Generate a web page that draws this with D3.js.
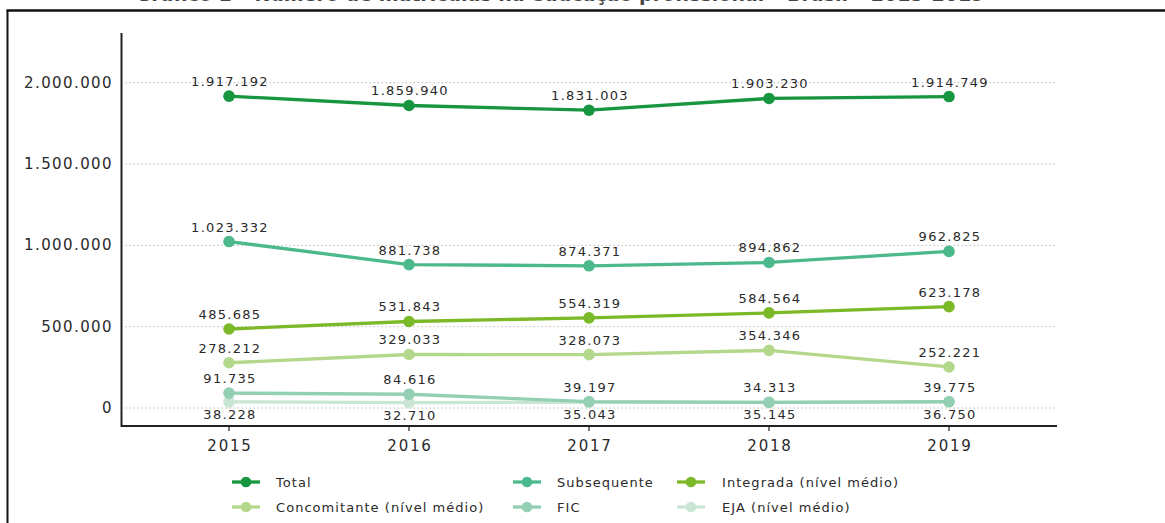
<!DOCTYPE html>
<html><head><meta charset="utf-8">
<script src="https://cdn.jsdelivr.net/npm/d3@7"></script>
<style>
html,body{margin:0;padding:0;background:#fff;}
svg{display:block;font-family:"DejaVu Sans",Verdana,sans-serif;}
</style></head>
<body>
<svg id="chart" width="1165" height="523"></svg>
<script>
const years = ["2015","2016","2017","2018","2019"];
const yTicks = [0, 500000, 1000000, 1500000, 2000000];
const seriesNames = ["Total","Subsequente","Integrada (nível médio)","Concomitante (nível médio)","FIC","EJA (nível médio)"];
const total        = [1917192, 1859940, 1831003, 1903230, 1914749];
const subsequente  = [1023332, 881738, 874371, 894862, 962825];
const integrada    = [485685, 531843, 554319, 584564, 623178];
const concomitante = [278212, 329033, 328073, 354346, 252221];
const fic          = [91735, 84616, 39197, 34313, 39775];
const eja          = [38228, 32710, 35043, 35145, 36750];
const colors = ["#17963f","#4cb98d","#7cb928","#b3d88b","#93cfb3","#c8e6d3"];
const labelBelow = [false,false,false,false,false,true];

const svg = d3.select("#chart");
const fmt = v => d3.format(",")(v).replace(/,/g,".");

// title (mostly cut off at the top in the reference) and frame
svg.append("text").attr("x",560).attr("y",1.2).attr("text-anchor","middle")
  .attr("font-size",19).attr("font-weight","bold").attr("fill","#444")
  .text("Gráfico 1 – Número de matrículas na educação profissional – Brasil – 2015-2019");
svg.append("line").attr("x1",6.5).attr("x2",1165).attr("y1",10.5).attr("y2",10.5).attr("stroke","#111").attr("stroke-width",2.5);
svg.append("line").attr("x1",7.5).attr("x2",7.5).attr("y1",10).attr("y2",523).attr("stroke","#111").attr("stroke-width",2);

const x = d3.scalePoint().domain(years).range([229, 949]);
const y = d3.scaleLinear().domain([0, 2000000]).range([408, 82.7]);
const plotLeft = 121.5, plotRight = 1057, axisTop = 33, axisBottom = 426;

// grid
svg.append("g").selectAll("line").data(yTicks).join("line")
  .attr("x1",plotLeft+4).attr("x2",plotRight).attr("y1",d=>y(d)).attr("y2",d=>y(d))
  .attr("stroke","#bbb").attr("stroke-width",1).attr("stroke-dasharray","1.5,2.5");

// y tick labels
svg.append("g").selectAll("text").data(yTicks).join("text")
  .attr("x",113).attr("y",d=>y(d)+5).attr("text-anchor","end")
  .attr("font-size",15).attr("letter-spacing",1.4).attr("fill","#2a2a2a")
  .text(d=>fmt(d));

// axes lines
svg.append("line").attr("x1",plotLeft).attr("x2",plotLeft).attr("y1",axisTop).attr("y2",axisBottom+1).attr("stroke","#222").attr("stroke-width",2);
svg.append("line").attr("x1",plotLeft).attr("x2",plotRight).attr("y1",axisBottom).attr("y2",axisBottom).attr("stroke","#222").attr("stroke-width",2);
svg.append("g").selectAll("line").data(years).join("line")
  .attr("x1",d=>x(d)).attr("x2",d=>x(d)).attr("y1",axisBottom).attr("y2",axisBottom+5).attr("stroke","#222").attr("stroke-width",1.2);
svg.append("g").selectAll("text").data(years).join("text")
  .attr("x",d=>x(d)+1).attr("y",451).attr("text-anchor","middle")
  .attr("font-size",15).attr("letter-spacing",1.8).attr("fill","#2a2a2a").text(d=>d);

const data = [total, subsequente, integrada, concomitante, fic, eja];
const line = d3.line().x((d,i)=>x(years[i])).y(d=>y(d));

// draw series bottom-up so Total is on top
const order = [5,4,3,2,1,0];
order.forEach(si=>{
  const vals = data[si];
  const g = svg.append("g");
  g.append("path").datum(vals).attr("d",line).attr("fill","none")
    .attr("stroke",colors[si]).attr("stroke-width",3.3);
  g.selectAll("circle").data(vals).join("circle")
    .attr("cx",(d,i)=>x(years[i])).attr("cy",d=>y(d)).attr("r",5.8).attr("fill",colors[si]);
});
order.forEach(si=>{
  const vals = data[si];
  svg.append("g").selectAll("text").data(vals).join("text")
    .attr("x",(d,i)=>x(years[i])+1).attr("y",d=>labelBelow[si] ? y(d)+17 : y(d)-10)
    .attr("text-anchor","middle").attr("font-size",13).attr("letter-spacing",1.3).attr("fill","#2a2a2a")
    .text(d=>fmt(d));
});

// legend
const legX = [246, 527, 691], legTextX = [276, 557, 722], legY = [482, 507];
seriesNames.forEach((name,i)=>{
  const col = i%3, row = Math.floor(i/3);
  const g = svg.append("g");
  g.append("line").attr("x1",legX[col]-14).attr("x2",legX[col]+14).attr("y1",legY[row]).attr("y2",legY[row])
    .attr("stroke",colors[i]).attr("stroke-width",3.3);
  g.append("circle").attr("cx",legX[col]).attr("cy",legY[row]).attr("r",5.3).attr("fill",colors[i]);
  g.append("text").attr("x",legTextX[col]).attr("y",legY[row]+4.5).attr("font-size",13)
    .attr("letter-spacing",1.05).attr("fill","#2a2a2a").text(name);
});
</script>
</body></html>
